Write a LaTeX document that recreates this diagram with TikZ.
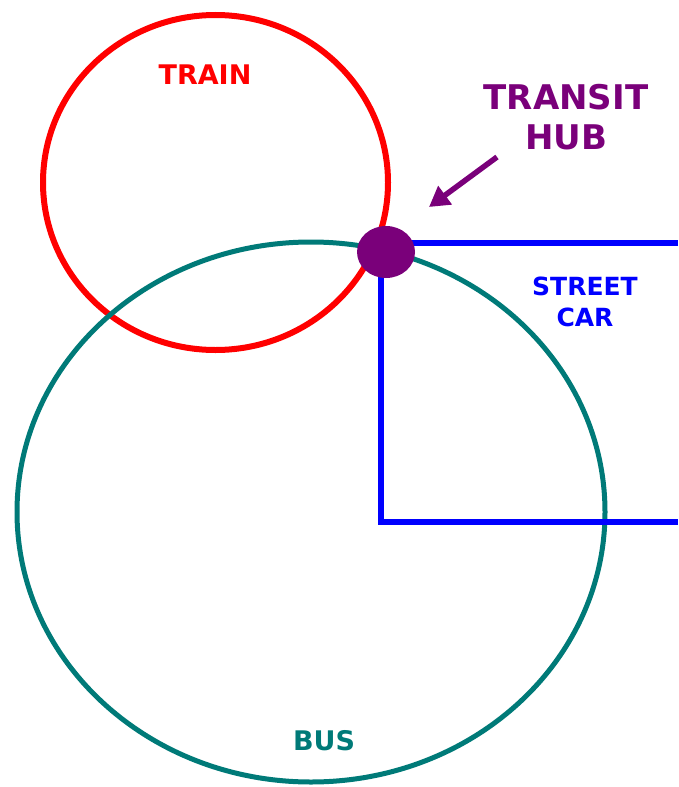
\documentclass[tikz,border=0pt]{standalone}
\usepackage{fontspec}
\setmainfont{DejaVu Sans}
\usetikzlibrary{arrows.meta,shapes.geometric}
\definecolor{trainred}{HTML}{FF0000}
\definecolor{busteal}{HTML}{007A78}
\definecolor{carblue}{HTML}{0000FF}
\definecolor{hubpurple}{HTML}{7A007A}
\tikzset{
  lbl/.style={inner sep=0pt, align=center},
  hubdot/.style={fill=hubpurple, ellipse, minimum width=58pt, minimum height=52pt, inner sep=0pt},
}
\begin{document}
\begin{tikzpicture}[x=1pt,y=-1pt]
\useasboundingbox (0,0) rectangle (678,787);
% train
\draw[trainred, line width=6pt] (215.5,182.5) ellipse [x radius=172.5, y radius=167.5];
% bus
\draw[busteal, line width=5pt] (311,512) ellipse [x radius=294, y radius=270];
% street car
\coordinate (hubc) at (386,252);
\coordinate (re1) at (678,243);
\coordinate (hubv) at (381,252);
\coordinate (se) at (381,522);
\coordinate (re2) at (678,522);
\draw[carblue, line width=6pt] (re1) -- (re1 -| hubc);
\draw[carblue, line width=6pt] (hubv) -- (se) -- (re2);
% hub node
\node[hubdot] (hub) at (hubc) {};
% labels
\node[lbl, text=trainred, font=\fontsize{27}{32}\selectfont\bfseries] (train) at (205,75) {TRAIN};
\node[lbl, text=busteal, font=\fontsize{27}{32}\selectfont\bfseries] (bus) at (324,741) {BUS};
\node[lbl, text=carblue, font=\fontsize{25}{31}\selectfont\bfseries] (car) at (585,301.5) {STREET\\CAR};
\node[lbl, text=hubpurple, font=\fontsize{34}{40}\selectfont\bfseries] (title) at (566,117.5) {TRANSIT\\HUB};
% arrow
\coordinate (arrowstart) at (497,157);
\coordinate (arrowend) at (429,207);
\draw[hubpurple, line width=5.5pt, -{Triangle[length=20pt,width=22pt]}] (arrowstart) -- (arrowend);
\end{tikzpicture}
\end{document}
